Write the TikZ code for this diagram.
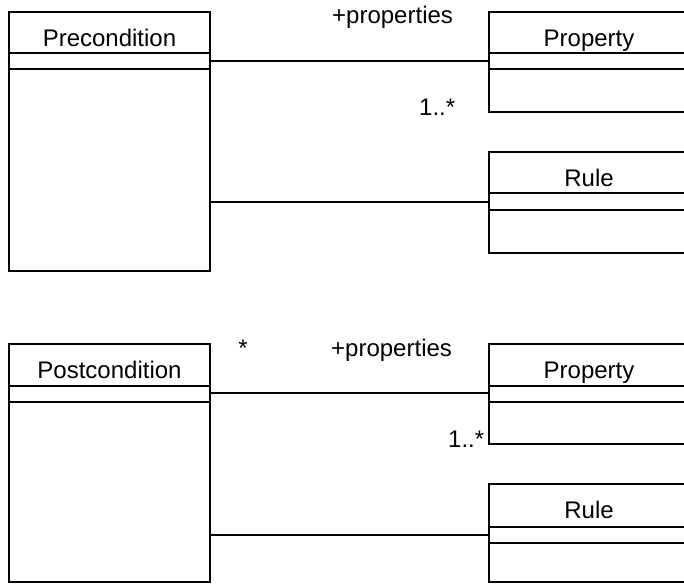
\documentclass[tikz,border=0pt]{standalone}
\usepackage{fontspec}
\setmainfont{Liberation Sans}
\begin{document}
\begin{tikzpicture}[x=1pt,y=-1pt,
  classbox/.style={draw, line width=1.4pt, rectangle, inner sep=0pt, outer sep=0pt, anchor=north west},
  classname/.style={anchor=base, inner sep=0pt, font=\fontsize{24}{28}\selectfont},
  rolelabel/.style={anchor=base west, inner sep=0pt, font=\fontsize{24}{28}\selectfont},
  compartment/.style={line width=1.4pt},
  assoc/.style={line width=1.4pt}]
\useasboundingbox (0,0) rectangle (684,584);
\clip (0,0) rectangle (684,584);

% ---- upper group: Precondition ----
\node[classbox, minimum width=201, minimum height=259] (pre) at (9,12) {};
\node[classname] (preT) at (109.5,46) {Precondition};
\draw[compartment] (9,53) -- (210,53) (9,69) -- (210,69);

\node[classbox, minimum width=201, minimum height=100] (prop1) at (489,12) {};
\node[classname] (prop1T) at (589,46) {Property};
\draw[compartment] (489,53) -- (690,53) (489,69) -- (690,69);

\node[classbox, minimum width=201, minimum height=101] (rule1) at (489,152) {};
\node[classname] (rule1T) at (589,186) {Rule};
\draw[compartment] (489,193) -- (690,193) (489,210) -- (690,210);

\coordinate (y1) at (0,61);
\coordinate (y2) at (0,202);
\draw[assoc] (pre.east |- y1) -- (prop1.west |- y1);
\draw[assoc] (pre.east |- y2) -- (rule1.west |- y2);
\node[rolelabel] (role1) at (332,23) {+properties};
\node[rolelabel] (mult1) at (419,115) {1..*};

% ---- lower group: Postcondition ----
\node[classbox, minimum width=201, minimum height=238] (post) at (9,344) {};
\node[classname] (postT) at (109.5,378) {Postcondition};
\draw[compartment] (9,386) -- (210,386) (9,402) -- (210,402);

\node[classbox, minimum width=201, minimum height=100] (prop2) at (489,344) {};
\node[classname] (prop2T) at (589,378) {Property};
\draw[compartment] (489,386) -- (690,386) (489,402) -- (690,402);

\node[classbox, minimum width=201, minimum height=98] (rule2) at (489,484) {};
\node[classname] (rule2T) at (589,518) {Rule};
\draw[compartment] (489,527) -- (690,527) (489,543) -- (690,543);

\coordinate (y3) at (0,393);
\coordinate (y4) at (0,535);
\draw[assoc] (post.east |- y3) -- (prop2.west |- y3);
\draw[assoc] (post.east |- y4) -- (rule2.west |- y4);
\node[classname] (mult2a) at (243,356) {*};
\node[rolelabel] (role2) at (331,356) {+properties};
\node[rolelabel] (mult2b) at (448,447) {1..*};
\end{tikzpicture}
\end{document}
